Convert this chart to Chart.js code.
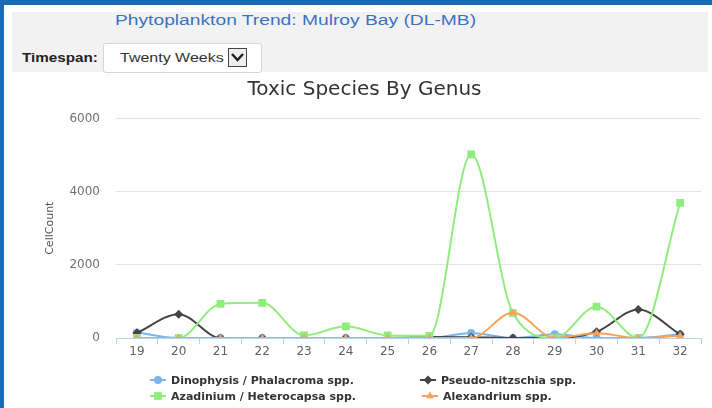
<!DOCTYPE html>
<html>
<head>
<meta charset="utf-8">
<script src="https://cdn.jsdelivr.net/npm/chart.js@4.4.1/dist/chart.umd.min.js"></script>
<style>
  body { margin: 0; width: 712px; height: 408px; overflow: hidden; background: #fff; position: relative; font-family: "Liberation Sans", Arial, sans-serif; }
  .bar-top { position: absolute; left: 0; top: 0; width: 712px; height: 5px; background: #1b6ab5; }
  .bar-left { position: absolute; left: 0; top: 0; width: 4px; height: 408px; background: #1b6ab5; }
  .panel { position: absolute; left: 12px; top: 12px; width: 696px; height: 60px; background: #f2f2f2; }
  .page-title { position: absolute; left: 115px; top: 11px; font-size: 15.5px; color: #3a72c4; transform: scaleX(1.24); transform-origin: left; white-space: nowrap; }
  .ts-label { position: absolute; left: 22px; top: 51px; font-size: 12px; font-weight: bold; color: #222; transform: scaleX(1.27); transform-origin: left; }
  .select { position: absolute; left: 103px; top: 43px; width: 157px; height: 28px; background: #fff; border: 1px solid #d6d6d6; border-radius: 3px; }
  .select span { position: absolute; left: 16px; top: 6px; font-size: 13px; color: #333; transform: scaleX(1.23); transform-origin: left; white-space: nowrap; }
  .select .arrow { position: absolute; left: 124px; top: 4px; width: 17px; height: 17px; border: 1px solid #444; background: #eee; }
  #wrap { position: absolute; left: 12px; top: 72px; width: 696px; height: 336px; }
  #legend { position: absolute; left: 150px; top: 372px; }
  #legend .row { display: flex; height: 16px; align-items: center; }
  #legend .item { display: flex; align-items: center; margin-right: 66px; font: bold 11px "DejaVu Sans", sans-serif; color: #333; white-space: nowrap; }
  #legend .item:last-child { margin-right: 0; }
  #legend canvas { margin-right: 5px; }
</style>
</head>
<body>
<div class="bar-top"></div>
<div class="bar-left"></div>
<div class="panel"></div>
<div class="page-title">Phytoplankton Trend: Mulroy Bay (DL-MB)</div>
<div class="ts-label">Timespan:</div>
<div class="select"><span>Twenty Weeks</span>
  <div class="arrow"><svg width="17" height="17"><polyline points="3,5 8.5,11 14,5" fill="none" stroke="#222" stroke-width="2.5"/></svg></div>
</div>
<div id="wrap"><canvas id="chart" width="696" height="336"></canvas></div>
<div id="legend"></div>

<script>
// weeks along the x axis
const weeks = ['19', '20', '21', '22', '23', '24', '25', '26', '27', '28', '29', '30', '31', '32'];

// cell counts per week
const dinophysis      = [150, 0, 0, 0, 0, 0, 0, 0, 140, 0, 100, 0, 0, 100];
const pseudoNitzschia = [140, 650, 0, 0, 0, 0, 0, 30, 20, 0, 0, 170, 780, 100];
const azadinium       = [0, 0, 930, 960, 70, 320, 70, 60, 5020, 680, 0, 855, 0, 3690];
const alexandrium     = [0, 0, 0, 0, 0, 0, 0, 0, 0, 690, 0, 130, 0, 60];

const seriesNames = ['Dinophysis / Phalacroma spp.', 'Pseudo-nitzschia spp.', 'Azadinium / Heterocapsa spp.', 'Alexandrium spp.'];
const seriesData = [dinophysis, pseudoNitzschia, azadinium, alexandrium];
const seriesColors = ['#7cb5ec', '#434348', '#90ed7d', '#f7a35c'];
const seriesPoints = ['circle', 'rectRot', 'rect', 'triangle'];
const seriesRadius = [4, 4.5, 5.5, 4.5];

const yTicks = [0, 2000, 4000, 6000];

const datasets = seriesNames.map((name, i) => ({
    label: name,
    data: seriesData[i],
    borderColor: seriesColors[i],
    backgroundColor: seriesColors[i],
    borderWidth: 2,
    pointStyle: seriesPoints[i],
    pointRadius: seriesRadius[i],
    pointBorderWidth: 0,
    cubicInterpolationMode: 'monotone',
    order: seriesNames.length - 1 - i   // later series drawn on top
}));

const ctx = document.getElementById('chart').getContext('2d');
new Chart(ctx, {
    type: 'line',
    data: { labels: weeks, datasets: datasets },
    options: {
        responsive: false,
        animation: false,
        devicePixelRatio: 1,
        layout: { padding: { left: 16, right: 7, top: 0, bottom: 0 } },
        plugins: {
            legend: { display: false },
            tooltip: { enabled: false },
            title: {
                display: true,
                text: 'Toxic Species By Genus',
                color: '#333',
                font: { family: 'DejaVu Sans', size: 20, weight: 'normal' },
                padding: { top: 6, bottom: 16.4 }
            }
        },
        scales: {
            x: {
                offset: true,
                afterFit: s => { s.height = 70; },
                border: { display: true, color: '#c0d0e0', width: 1 },
                grid: { offset: true, drawOnChartArea: false, drawTicks: true, tickLength: 6, color: '#c0d0e0' },
                ticks: { color: '#606060', padding: 1, font: { family: 'DejaVu Sans', size: 12 } }
            },
            y: {
                min: 0,
                max: 6000,
                afterFit: s => { s.width = 88; },
                afterBuildTicks: s => { s.ticks = yTicks.map(v => ({ value: v })); },
                border: { display: false },
                grid: { color: '#e3e3e3', drawTicks: false },
                ticks: {
                    color: '#707070',
                    padding: 16,
                    font: { family: 'DejaVu Sans', size: 12 },
                    callback: v => String(v)
                },
                title: {
                    display: true,
                    text: 'CellCount',
                    color: '#555',
                    padding: { top: 16, bottom: 0 },
                    font: { family: 'DejaVu Sans', size: 11 }
                }
            }
        }
    }
});

// legend laid out like the original: two items per row
const legend = document.getElementById('legend');
for (let r = 0; r < 2; r++) {
    const row = document.createElement('div');
    row.className = 'row';
    for (let c = 0; c < 2; c++) {
        const i = r * 2 + c;
        const item = document.createElement('div');
        item.className = 'item';
        const sym = document.createElement('canvas');
        sym.width = 16; sym.height = 12;
        const g = sym.getContext('2d');
        g.strokeStyle = seriesColors[i];
        g.lineWidth = 2;
        g.beginPath(); g.moveTo(0, 6); g.lineTo(16, 6); g.stroke();
        g.fillStyle = seriesColors[i];
        Chart.helpers.drawPoint(g, { pointStyle: seriesPoints[i], radius: seriesRadius[i], borderWidth: 0 }, 8, 6);
        item.appendChild(sym);
        item.appendChild(document.createTextNode(seriesNames[i]));
        row.appendChild(item);
    }
    legend.appendChild(row);
}
</script>
</body>
</html>
